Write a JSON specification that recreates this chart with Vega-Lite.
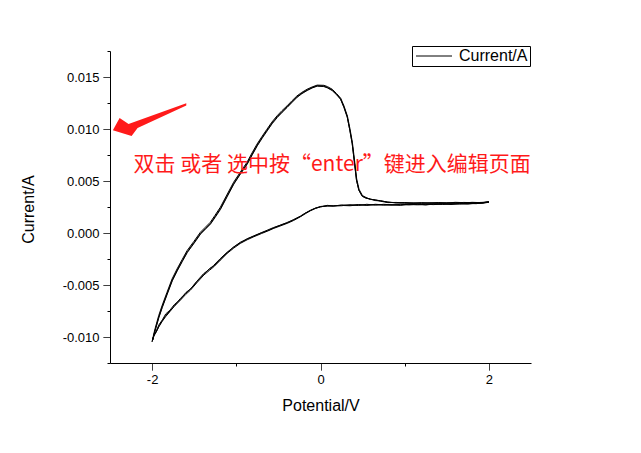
{
  "$schema": "https://vega.github.io/schema/vega-lite/v6.json",
  "autosize": "none",
  "width": 421,
  "height": 312,
  "padding": {"left": 110, "top": 51, "right": 110, "bottom": 90},
  "background": "white",
  "config": {
    "view": {"stroke": null},
    "axis": {
      "grid": false,
      "domainColor": "black",
      "domainWidth": 1,
      "tickColor": "black",
      "tickWidth": 1,
      "tickSize": 7,
      "labelFont": "Liberation Sans",
      "labelFontSize": 13,
      "labelColor": "black",
      "labelOverlap": false,
      "titleFont": "Liberation Sans",
      "titleFontSize": 16,
      "titleFontWeight": "normal",
      "titleColor": "black"
    },
    "legend": {
      "labelFont": "Liberation Sans",
      "labelFontSize": 16,
      "labelColor": "black"
    }
  },
  "datasets": {
    "cv": [
      {"c":1,"x":-2.000,"y":-0.01045},{"c":1,"x":-1.979,"y":-0.00990},{"c":1,"x":-1.958,"y":-0.00964},{"c":1,"x":-1.919,"y":-0.00901},{"c":1,"x":-1.880,"y":-0.00850},{"c":1,"x":-1.840,"y":-0.00805},{"c":1,"x":-1.790,"y":-0.00757},{"c":1,"x":-1.741,"y":-0.00709},{"c":1,"x":-1.662,"y":-0.00644},{"c":1,"x":-1.600,"y":-0.00590},{"c":1,"x":-1.543,"y":-0.00548},{"c":1,"x":-1.470,"y":-0.00480},{"c":1,"x":-1.385,"y":-0.00404},{"c":1,"x":-1.320,"y":-0.00360},{"c":1,"x":-1.266,"y":-0.00324},{"c":1,"x":-1.190,"y":-0.00262},{"c":1,"x":-1.107,"y":-0.00195},{"c":1,"x":-1.030,"y":-0.00145},{"c":1,"x":-0.950,"y":-0.00099},{"c":1,"x":-0.870,"y":-0.00065},{"c":1,"x":-0.792,"y":-0.00036},{"c":1,"x":-0.700,"y":-0.00005},{"c":1,"x":-0.630,"y":0.00018},{"c":1,"x":-0.554,"y":0.00045},{"c":1,"x":-0.470,"y":0.00070},{"c":1,"x":-0.395,"y":0.00093},{"c":1,"x":-0.320,"y":0.00120},{"c":1,"x":-0.237,"y":0.00157},{"c":1,"x":-0.180,"y":0.00185},{"c":1,"x":-0.119,"y":0.00214},{"c":1,"x":-0.060,"y":0.00235},{"c":1,"x":0.000,"y":0.00253},{"c":1,"x":0.080,"y":0.00258},{"c":1,"x":0.154,"y":0.00262},{"c":1,"x":0.250,"y":0.00265},{"c":1,"x":0.350,"y":0.00262},{"c":1,"x":0.450,"y":0.00270},{"c":1,"x":0.554,"y":0.00269},{"c":1,"x":0.650,"y":0.00272},{"c":1,"x":0.750,"y":0.00268},{"c":1,"x":0.850,"y":0.00273},{"c":1,"x":0.950,"y":0.00270},{"c":1,"x":1.050,"y":0.00274},{"c":1,"x":1.150,"y":0.00271},{"c":1,"x":1.250,"y":0.00276},{"c":1,"x":1.341,"y":0.00273},{"c":1,"x":1.450,"y":0.00278},{"c":1,"x":1.550,"y":0.00277},{"c":1,"x":1.650,"y":0.00281},{"c":1,"x":1.741,"y":0.00280},{"c":1,"x":1.850,"y":0.00285},{"c":1,"x":1.930,"y":0.00290},{"c":1,"x":2.000,"y":0.00298},
      {"c":1,"x":1.900,"y":0.00292},{"c":1,"x":1.800,"y":0.00295},{"c":1,"x":1.700,"y":0.00288},{"c":1,"x":1.600,"y":0.00292},{"c":1,"x":1.500,"y":0.00286},{"c":1,"x":1.400,"y":0.00290},{"c":1,"x":1.300,"y":0.00285},{"c":1,"x":1.200,"y":0.00289},{"c":1,"x":1.100,"y":0.00284},{"c":1,"x":1.000,"y":0.00290},{"c":1,"x":0.900,"y":0.00292},{"c":1,"x":0.800,"y":0.00296},{"c":1,"x":0.712,"y":0.00311},{"c":1,"x":0.650,"y":0.00316},{"c":1,"x":0.593,"y":0.00324},{"c":1,"x":0.540,"y":0.00338},{"c":1,"x":0.495,"y":0.00356},{"c":1,"x":0.455,"y":0.00413},{"c":1,"x":0.427,"y":0.00510},{"c":1,"x":0.404,"y":0.00670},{"c":1,"x":0.376,"y":0.00862},{"c":1,"x":0.348,"y":0.00990},{"c":1,"x":0.317,"y":0.01118},{"c":1,"x":0.277,"y":0.01214},{"c":1,"x":0.237,"y":0.01290},{"c":1,"x":0.190,"y":0.01335},{"c":1,"x":0.139,"y":0.01375},{"c":1,"x":0.080,"y":0.01400},{"c":1,"x":0.039,"y":0.01413},{"c":1,"x":-0.039,"y":0.01416},{"c":1,"x":-0.100,"y":0.01398},{"c":1,"x":-0.158,"y":0.01375},{"c":1,"x":-0.220,"y":0.01345},{"c":1,"x":-0.277,"y":0.01311},{"c":1,"x":-0.335,"y":0.01265},{"c":1,"x":-0.395,"y":0.01214},{"c":1,"x":-0.455,"y":0.01168},{"c":1,"x":-0.514,"y":0.01118},{"c":1,"x":-0.575,"y":0.01058},{"c":1,"x":-0.633,"y":0.00990},{"c":1,"x":-0.692,"y":0.00920},{"c":1,"x":-0.751,"y":0.00846},{"c":1,"x":-0.810,"y":0.00760},{"c":1,"x":-0.870,"y":0.00670},{"c":1,"x":-0.950,"y":0.00575},{"c":1,"x":-1.029,"y":0.00478},{"c":1,"x":-1.110,"y":0.00355},{"c":1,"x":-1.187,"y":0.00237},{"c":1,"x":-1.250,"y":0.00160},{"c":1,"x":-1.306,"y":0.00093},{"c":1,"x":-1.365,"y":0.00045},{"c":1,"x":-1.424,"y":-0.00003},{"c":1,"x":-1.500,"y":-0.00090},{"c":1,"x":-1.582,"y":-0.00180},{"c":1,"x":-1.640,"y":-0.00265},{"c":1,"x":-1.701,"y":-0.00356},{"c":1,"x":-1.760,"y":-0.00452},{"c":1,"x":-1.820,"y":-0.00580},{"c":1,"x":-1.879,"y":-0.00709},{"c":1,"x":-1.919,"y":-0.00805},{"c":1,"x":-1.958,"y":-0.00916},{"c":1,"x":-1.979,"y":-0.00981},{"c":1,"x":-2.000,"y":-0.01045},
      {"c":2,"x":-1.995,"y":-0.01030},{"c":2,"x":-1.975,"y":-0.00975},{"c":2,"x":-1.950,"y":-0.00948},{"c":2,"x":-1.915,"y":-0.00890},{"c":2,"x":-1.875,"y":-0.00838},{"c":2,"x":-1.835,"y":-0.00790},{"c":2,"x":-1.785,"y":-0.00748},{"c":2,"x":-1.735,"y":-0.00700},{"c":2,"x":-1.665,"y":-0.00630},{"c":2,"x":-1.605,"y":-0.00582},{"c":2,"x":-1.545,"y":-0.00540},{"c":2,"x":-1.475,"y":-0.00470},{"c":2,"x":-1.390,"y":-0.00392},{"c":2,"x":-1.325,"y":-0.00352},{"c":2,"x":-1.270,"y":-0.00312},{"c":2,"x":-1.195,"y":-0.00250},{"c":2,"x":-1.110,"y":-0.00185},{"c":2,"x":-1.035,"y":-0.00138},{"c":2,"x":-0.955,"y":-0.00090},{"c":2,"x":-0.875,"y":-0.00058},{"c":2,"x":-0.795,"y":-0.00028},{"c":2,"x":-0.705,"y":0.00002},{"c":2,"x":-0.635,"y":0.00026},{"c":2,"x":-0.560,"y":0.00052},{"c":2,"x":-0.475,"y":0.00076},{"c":2,"x":-0.400,"y":0.00100},{"c":2,"x":-0.325,"y":0.00126},{"c":2,"x":-0.240,"y":0.00162},{"c":2,"x":-0.185,"y":0.00190},{"c":2,"x":-0.120,"y":0.00218},{"c":2,"x":-0.065,"y":0.00238},{"c":2,"x":0.000,"y":0.00255},{"c":2,"x":0.080,"y":0.00262},{"c":2,"x":0.150,"y":0.00258},{"c":2,"x":0.250,"y":0.00270},{"c":2,"x":0.350,"y":0.00266},{"c":2,"x":0.450,"y":0.00274},{"c":2,"x":0.550,"y":0.00265},{"c":2,"x":0.650,"y":0.00276},{"c":2,"x":0.750,"y":0.00271},{"c":2,"x":0.850,"y":0.00268},{"c":2,"x":0.950,"y":0.00276},{"c":2,"x":1.050,"y":0.00270},{"c":2,"x":1.150,"y":0.00277},{"c":2,"x":1.250,"y":0.00272},{"c":2,"x":1.350,"y":0.00279},{"c":2,"x":1.450,"y":0.00274},{"c":2,"x":1.550,"y":0.00282},{"c":2,"x":1.650,"y":0.00278},{"c":2,"x":1.750,"y":0.00284},{"c":2,"x":1.850,"y":0.00282},{"c":2,"x":1.930,"y":0.00292},{"c":2,"x":2.000,"y":0.00300},
      {"c":2,"x":1.900,"y":0.00288},{"c":2,"x":1.800,"y":0.00292},{"c":2,"x":1.700,"y":0.00294},{"c":2,"x":1.600,"y":0.00287},{"c":2,"x":1.500,"y":0.00291},{"c":2,"x":1.400,"y":0.00286},{"c":2,"x":1.300,"y":0.00291},{"c":2,"x":1.200,"y":0.00284},{"c":2,"x":1.100,"y":0.00290},{"c":2,"x":1.000,"y":0.00286},{"c":2,"x":0.900,"y":0.00294},{"c":2,"x":0.800,"y":0.00292},{"c":2,"x":0.712,"y":0.00306},{"c":2,"x":0.650,"y":0.00320},{"c":2,"x":0.593,"y":0.00322},{"c":2,"x":0.540,"y":0.00342},{"c":2,"x":0.498,"y":0.00360},{"c":2,"x":0.458,"y":0.00420},{"c":2,"x":0.430,"y":0.00520},{"c":2,"x":0.407,"y":0.00680},{"c":2,"x":0.379,"y":0.00870},{"c":2,"x":0.351,"y":0.00998},{"c":2,"x":0.320,"y":0.01124},{"c":2,"x":0.280,"y":0.01220},{"c":2,"x":0.240,"y":0.01296},{"c":2,"x":0.192,"y":0.01340},{"c":2,"x":0.140,"y":0.01382},{"c":2,"x":0.082,"y":0.01408},{"c":2,"x":0.040,"y":0.01420},{"c":2,"x":-0.040,"y":0.01422},{"c":2,"x":-0.100,"y":0.01404},{"c":2,"x":-0.160,"y":0.01382},{"c":2,"x":-0.222,"y":0.01352},{"c":2,"x":-0.280,"y":0.01318},{"c":2,"x":-0.338,"y":0.01272},{"c":2,"x":-0.398,"y":0.01222},{"c":2,"x":-0.458,"y":0.01176},{"c":2,"x":-0.517,"y":0.01126},{"c":2,"x":-0.578,"y":0.01066},{"c":2,"x":-0.636,"y":0.00998},{"c":2,"x":-0.695,"y":0.00928},{"c":2,"x":-0.754,"y":0.00855},{"c":2,"x":-0.813,"y":0.00770},{"c":2,"x":-0.873,"y":0.00680},{"c":2,"x":-0.953,"y":0.00585},{"c":2,"x":-1.032,"y":0.00488},{"c":2,"x":-1.113,"y":0.00365},{"c":2,"x":-1.190,"y":0.00247},{"c":2,"x":-1.253,"y":0.00170},{"c":2,"x":-1.309,"y":0.00103},{"c":2,"x":-1.368,"y":0.00055},{"c":2,"x":-1.427,"y":0.00007},{"c":2,"x":-1.503,"y":-0.00080},{"c":2,"x":-1.585,"y":-0.00170},{"c":2,"x":-1.643,"y":-0.00255},{"c":2,"x":-1.704,"y":-0.00346},{"c":2,"x":-1.763,"y":-0.00442},{"c":2,"x":-1.823,"y":-0.00570},{"c":2,"x":-1.882,"y":-0.00699},{"c":2,"x":-1.922,"y":-0.00795},{"c":2,"x":-1.960,"y":-0.00906},{"c":2,"x":-1.981,"y":-0.00972},{"c":2,"x":-1.995,"y":-0.01030},
      {"c":3,"x":-1.998,"y":-0.01040},{"c":3,"x":-1.978,"y":-0.00982},{"c":3,"x":-1.955,"y":-0.00950},{"c":3,"x":-1.917,"y":-0.00880},{"c":3,"x":-1.878,"y":-0.00835},{"c":3,"x":-1.838,"y":-0.00778},{"c":3,"x":-1.788,"y":-0.00742},{"c":3,"x":-1.738,"y":-0.00690},{"c":3,"x":-1.660,"y":-0.00636},{"c":3,"x":-1.598,"y":-0.00572},{"c":3,"x":-1.540,"y":-0.00535},{"c":3,"x":-1.468,"y":-0.00468},{"c":3,"x":-1.383,"y":-0.00396},{"c":3,"x":-1.318,"y":-0.00342},{"c":3,"x":-1.263,"y":-0.00316},{"c":3,"x":-1.188,"y":-0.00252},{"c":3,"x":-1.105,"y":-0.00188},{"c":3,"x":-1.028,"y":-0.00132},{"c":3,"x":-0.948,"y":-0.00094},{"c":3,"x":-0.868,"y":-0.00055},{"c":3,"x":-0.790,"y":-0.00030},{"c":3,"x":-0.698,"y":0.00003},{"c":3,"x":-0.628,"y":0.00022},{"c":3,"x":-0.552,"y":0.00050},{"c":3,"x":-0.468,"y":0.00078},{"c":3,"x":-0.393,"y":0.00098},{"c":3,"x":-0.318,"y":0.00128},{"c":3,"x":-0.235,"y":0.00160},{"c":3,"x":-0.178,"y":0.00192},{"c":3,"x":-0.117,"y":0.00218},{"c":3,"x":-0.058,"y":0.00240},{"c":3,"x":0.000,"y":0.00250},{"c":3,"x":0.080,"y":0.00266},{"c":3,"x":0.150,"y":0.00260},{"c":3,"x":0.250,"y":0.00262},{"c":3,"x":0.350,"y":0.00272},{"c":3,"x":0.450,"y":0.00264},{"c":3,"x":0.550,"y":0.00276},{"c":3,"x":0.650,"y":0.00268},{"c":3,"x":0.750,"y":0.00276},{"c":3,"x":0.850,"y":0.00270},{"c":3,"x":0.950,"y":0.00266},{"c":3,"x":1.050,"y":0.00278},{"c":3,"x":1.150,"y":0.00274},{"c":3,"x":1.250,"y":0.00270},{"c":3,"x":1.350,"y":0.00278},{"c":3,"x":1.450,"y":0.00283},{"c":3,"x":1.550,"y":0.00274},{"c":3,"x":1.650,"y":0.00285},{"c":3,"x":1.750,"y":0.00279},{"c":3,"x":1.850,"y":0.00288},{"c":3,"x":1.930,"y":0.00286},{"c":3,"x":2.000,"y":0.00296},
      {"c":3,"x":1.900,"y":0.00294},{"c":3,"x":1.800,"y":0.00286},{"c":3,"x":1.700,"y":0.00292},{"c":3,"x":1.600,"y":0.00295},{"c":3,"x":1.500,"y":0.00288},{"c":3,"x":1.400,"y":0.00293},{"c":3,"x":1.300,"y":0.00288},{"c":3,"x":1.200,"y":0.00292},{"c":3,"x":1.100,"y":0.00287},{"c":3,"x":1.000,"y":0.00293},{"c":3,"x":0.900,"y":0.00288},{"c":3,"x":0.800,"y":0.00298},{"c":3,"x":0.712,"y":0.00308},{"c":3,"x":0.650,"y":0.00312},{"c":3,"x":0.593,"y":0.00328},{"c":3,"x":0.540,"y":0.00334},{"c":3,"x":0.496,"y":0.00352},{"c":3,"x":0.456,"y":0.00410},{"c":3,"x":0.428,"y":0.00505},{"c":3,"x":0.405,"y":0.00664},{"c":3,"x":0.377,"y":0.00856},{"c":3,"x":0.349,"y":0.00985},{"c":3,"x":0.318,"y":0.01112},{"c":3,"x":0.278,"y":0.01208},{"c":3,"x":0.238,"y":0.01286},{"c":3,"x":0.190,"y":0.01330},{"c":3,"x":0.138,"y":0.01370},{"c":3,"x":0.080,"y":0.01396},{"c":3,"x":0.039,"y":0.01408},{"c":3,"x":-0.039,"y":0.01412},{"c":3,"x":-0.100,"y":0.01394},{"c":3,"x":-0.158,"y":0.01370},{"c":3,"x":-0.220,"y":0.01340},{"c":3,"x":-0.277,"y":0.01305},{"c":3,"x":-0.335,"y":0.01258},{"c":3,"x":-0.395,"y":0.01208},{"c":3,"x":-0.455,"y":0.01160},{"c":3,"x":-0.514,"y":0.01110},{"c":3,"x":-0.575,"y":0.01050},{"c":3,"x":-0.633,"y":0.00982},{"c":3,"x":-0.692,"y":0.00912},{"c":3,"x":-0.751,"y":0.00838},{"c":3,"x":-0.810,"y":0.00752},{"c":3,"x":-0.870,"y":0.00662},{"c":3,"x":-0.950,"y":0.00568},{"c":3,"x":-1.029,"y":0.00470},{"c":3,"x":-1.110,"y":0.00347},{"c":3,"x":-1.187,"y":0.00228},{"c":3,"x":-1.250,"y":0.00152},{"c":3,"x":-1.306,"y":0.00086},{"c":3,"x":-1.365,"y":0.00038},{"c":3,"x":-1.424,"y":-0.00010},{"c":3,"x":-1.500,"y":-0.00097},{"c":3,"x":-1.582,"y":-0.00188},{"c":3,"x":-1.640,"y":-0.00272},{"c":3,"x":-1.701,"y":-0.00364},{"c":3,"x":-1.760,"y":-0.00460},{"c":3,"x":-1.820,"y":-0.00588},{"c":3,"x":-1.879,"y":-0.00716},{"c":3,"x":-1.919,"y":-0.00812},{"c":3,"x":-1.958,"y":-0.00922},{"c":3,"x":-1.979,"y":-0.00986},{"c":3,"x":-1.998,"y":-0.01040}
    ],
    "note": [
      {"x": -2.22, "y": 0.00654, "t": "双击 或者 选中按“enter”键进入编辑页面"}
    ],
    "arrow": [
      {"x": -2.03, "y": 0.01093}
    ]
  },
  "layer": [
    {
      "data": {"name": "cv"},
      "mark": {"type": "line", "strokeWidth": 1, "clip": false},
      "encoding": {
        "x": {
          "field": "x", "type": "quantitative",
          "scale": {"domain": [-2.5, 2.5], "nice": false, "zero": false},
          "axis": {
            "title": "Potential/V",
            "values": [-2, -1, 0, 1, 2],
            "tickCount": 100,
            "labelExpr": "datum.value % 2 == 0 ? (datum.value < 0 ? '-' : '') + abs(datum.value) : ''",
            "tickDash": {"condition": {"test": "datum.value % 2 == 0", "value": [1, 0]}, "value": [3, 20]},
            "labelFontSize": 13,
            "labelPadding": 3,
            "titleY": 42,
            "titleBaseline": "middle"
          }
        },
        "y": {
          "field": "y", "type": "quantitative",
          "scale": {"domain": [-0.0125, 0.0175], "nice": false, "zero": false},
          "axis": {
            "title": "Current/A",
            "values": [-0.0125, -0.01, -0.0075, -0.005, -0.0025, 0, 0.0025, 0.005, 0.0075, 0.01, 0.0125, 0.015, 0.0175],
            "tickCount": 100,
            "labelExpr": "abs(datum.value*200 - round(datum.value*200)) < 0.001 ? (datum.value < -1e-9 ? '-' : '') + format(abs(datum.value), '.3f') : ''",
            "tickDash": {"condition": {"test": "abs(datum.value*200 - round(datum.value*200)) < 0.001", "value": [1, 0]}, "value": [3, 20]},
            "labelFontSize": 13,
            "labelPadding": 4,
            "titleX": -82,
            "titleY": 158,
            "titleBaseline": "middle",
            "titleAlign": "center"
          }
        },
        "color": {
          "datum": "Current/A",
          "scale": {"range": ["black"]},
          "legend": {
            "title": null,
            "orient": "none",
            "legendX": 302,
            "legendY": -5,
            "symbolType": "M -3.6 0 L 3.6 0",
            "symbolSize": 100,
            "symbolStrokeWidth": 1,
            "symbolOffset": 12,
            "labelOffset": 17,
            "padding": 2,
            "strokeColor": "black",
            "fillColor": "white"
          }
        },
        "detail": {"field": "c"},
        "order": {"value": null}
      }
    },
    {
      "data": {"name": "note"},
      "mark": {"type": "text", "align": "left", "baseline": "middle", "font": "Noto Sans CJK SC", "fontSize": 21, "color": "#ff1a1a"},
      "encoding": {
        "x": {"field": "x", "type": "quantitative"},
        "y": {"field": "y", "type": "quantitative"},
        "text": {"field": "t"}
      }
    },
    {
      "data": {"name": "arrow"},
      "mark": {
        "type": "point",
        "shape": "M -0.992 0.297 L -0.81 -0.035 L -0.568 0.127 L 0.992 -0.434 L 0.992 -0.374 L -0.324 0.235 L -0.486 0.451 Z",
        "size": 5476,
        "filled": true,
        "opacity": 1,
        "color": "#ff1a1a",
        "strokeWidth": 0
      },
      "encoding": {
        "x": {"field": "x", "type": "quantitative"},
        "y": {"field": "y", "type": "quantitative"}
      }
    }
  ]
}
